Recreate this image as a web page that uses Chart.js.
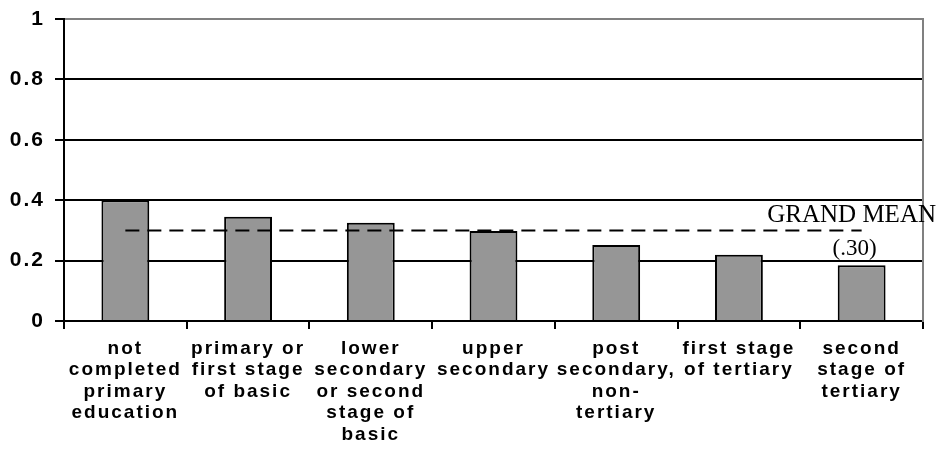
<!DOCTYPE html>
<html>
<head>
<meta charset="utf-8">
<script src="https://cdn.jsdelivr.net/npm/chart.js@4"></script>
<style>
  html, body { margin: 0; padding: 0; background: #ffffff; }
  canvas { display: block; }
</style>
</head>
<body>
<canvas id="c" width="943" height="454"></canvas>
<script>
const categories = [
  ["not", "completed", "primary", "education"],
  ["primary or", "first stage", "of basic"],
  ["lower", "secondary", "or second", "stage of", "basic"],
  ["upper", "secondary"],
  ["post", "secondary,", "non-", "tertiary"],
  ["first stage", "of tertiary"],
  ["second", "stage of", "tertiary"]
];
const values = [0.40, 0.345, 0.325, 0.298, 0.252, 0.219, 0.185];
const grandMean = [0.30, 0.30, 0.30, 0.30, 0.30, 0.30, 0.30];
const yTicks = [0, 0.2, 0.4, 0.6, 0.8, 1];
const meanLabel = "GRAND MEAN";
const meanValueLabel = "(.30)";

const SANS = '"Liberation Sans", Arial, Helvetica, sans-serif';
const SERIF = '"Liberation Serif", "Times New Roman", Times, serif';
const SPACING = '2px';

const spacingPlugin = {
  id: 'spacing',
  beforeUpdate(chart) { chart.ctx.letterSpacing = SPACING; },
  beforeLayout(chart) { chart.ctx.letterSpacing = SPACING; },
  beforeDraw(chart) { chart.ctx.letterSpacing = SPACING; },
  afterDraw(chart) {
    const ctx = chart.ctx;
    const xs = chart.scales.x, ys = chart.scales.y;
    const yMean = ys.getPixelForValue(grandMean[grandMean.length - 1]);
    const xLast = xs.getPixelForValue(categories.length - 1);
    ctx.save();
    ctx.letterSpacing = '0px';
    ctx.fillStyle = '#000';
    ctx.textBaseline = 'alphabetic';
    ctx.font = '25px ' + SERIF;
    ctx.textAlign = 'right';
    ctx.fillText(meanLabel, chart.chartArea.right + 13, yMean - 8);
    ctx.font = '23px ' + SERIF;
    ctx.textAlign = 'center';
    ctx.fillText(meanValueLabel, xLast - 7, yMean + 25);
    ctx.restore();
  }
};

new Chart(document.getElementById('c'), {
  data: {
    labels: categories,
    datasets: [
      {
        type: 'line',
        data: grandMean,
        borderColor: '#000',
        borderWidth: 2,
        borderDash: [14, 8],
        pointRadius: 0,
        fill: false,
        order: 0
      },
      {
        type: 'bar',
        data: values,
        backgroundColor: '#969696',
        borderColor: '#000',
        borderWidth: 2,
        barPercentage: 0.39,
        categoryPercentage: 1.0,
        order: 1
      }
    ]
  },
  options: {
    responsive: false,
    animation: false,
    devicePixelRatio: 1,
    layout: { padding: { top: 19, right: 20, left: 0, bottom: 0 } },
    plugins: {
      legend: { display: false },
      tooltip: { enabled: false }
    },
    scales: {
      x: {
        offset: true,
        grid: {
          offset: true,
          drawOnChartArea: false,
          drawTicks: true,
          tickLength: 8,
          color: '#000',
          lineWidth: 2
        },
        border: { color: '#000', width: 2 },
        ticks: {
          color: '#000',
          font: { family: SANS, size: 19, weight: 'bold', lineHeight: 1.13 },
          maxRotation: 0,
          autoSkip: false,
          padding: 9
        },
        afterFit(scale) { scale.height = 133; }
      },
      y: {
        min: 0,
        max: 1,
        afterBuildTicks(scale) { scale.ticks = yTicks.map(v => ({ value: v })); },
        grid: {
          color: (c) => (c.tick && c.tick.value === 1) ? '#808080' : '#000',
          tickColor: '#000',
          lineWidth: 2,
          tickLength: 9
        },
        border: { color: '#000', width: 2 },
        ticks: {
          color: '#000',
          font: { family: SANS, size: 21, weight: 'bold' },
          padding: 10,
          callback: (v) => String(v)
        },
        afterFit(scale) { scale.width = 64; scale.paddingTop = 0; scale.paddingBottom = 0; }
      },
      y2: {
        position: 'right',
        min: 0,
        max: 1,
        grid: { drawOnChartArea: false, drawTicks: false },
        border: { color: '#808080', width: 2 },
        ticks: { display: false },
        afterFit(scale) { scale.width = 0; scale.paddingTop = 0; scale.paddingBottom = 0; }
      }
    }
  },
  plugins: [spacingPlugin]
});
</script>
</body>
</html>
